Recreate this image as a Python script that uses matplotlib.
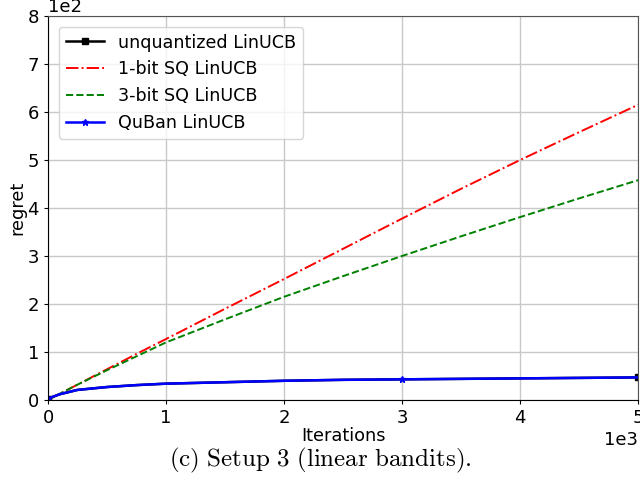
import matplotlib.pyplot as plt
import numpy as np

plt.rcParams['mathtext.fontset'] = 'cm'

iters = [0, 100, 250, 500, 750, 1000, 1500, 2000, 2500, 3000, 3500, 4000, 4500, 5000]
unquantized = [3, 12, 21, 27, 31, 34, 37, 40, 42, 43, 44, 45, 46, 47]
quban = [3, 12, 21, 27, 31, 34, 37, 40, 42, 43, 44, 45, 46, 47]
sq1 = [0, 13, 32, 64, 96, 127, 190, 252, 315, 378, 440, 500, 558, 615]
sq3 = [0, 13, 32, 62, 91, 120, 168, 215, 258, 300, 341, 381, 420, 458]

fig = plt.figure(figsize=(6.4, 4.86), dpi=100)
ax = fig.add_axes([0.075, 0.177, 0.922, 0.79])

ax.plot(iters, unquantized, color='black', lw=1.8, marker='s', markersize=4,
        markevery=[0, len(iters) - 1], label='unquantized LinUCB')
ax.plot(iters, sq1, color='red', lw=1.4, linestyle='-.', label='1-bit SQ LinUCB')
ax.plot(iters, sq3, color='green', lw=1.4, linestyle='--', label='3-bit SQ LinUCB')
ax.plot(iters, quban, color='blue', lw=1.8, marker='*', markersize=5,
        markevery=[0, iters.index(3000)], label='QuBan LinUCB')

ax.set_xlim(0, 5000)
ax.set_ylim(0, 800)
ax.ticklabel_format(style='sci', axis='both', scilimits=(0, 0))
ax.xaxis.get_offset_text().set_fontsize(13)
ax.yaxis.get_offset_text().set_fontsize(13)
ax.tick_params(labelsize=13, length=3)
ax.grid(True, color='#c8c8c8', lw=1)
ax.set_xlabel('Iterations', fontsize=12.8, labelpad=0)
ax.set_ylabel('regret', fontsize=12.8, labelpad=1)
ax.spines['top'].set_color('#555555')
ax.spines['right'].set_color('#555555')
ax.legend(loc='upper left', fontsize=12.6, handlelength=2.2, borderaxespad=0.6)

fig.text(0.5, 0.053, r'$\mathrm{(c)\ Setup\ 3\ (linear\ bandits).}$', ha='center',
         va='center', fontsize=18)

fig.savefig('out.png', dpi=100)
